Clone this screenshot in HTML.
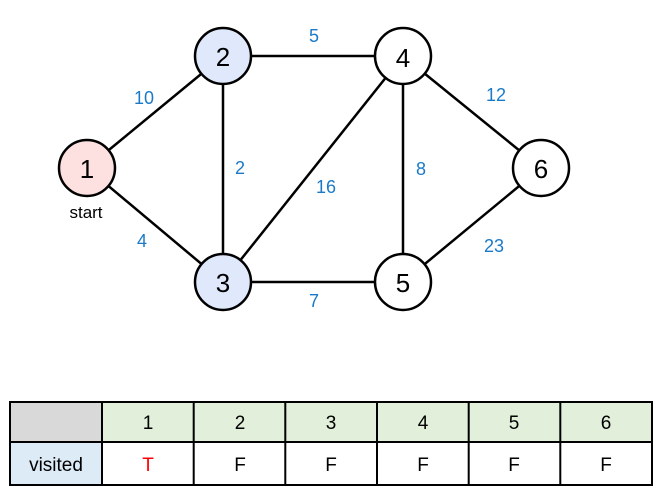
<!DOCTYPE html>
<html><head><style>
body{margin:0;background:#fff;width:670px;height:499px;overflow:hidden;font-family:"Liberation Sans",sans-serif}
</style></head><body>
<svg width="670" height="499" viewBox="0 0 670 499" xmlns="http://www.w3.org/2000/svg" font-family="Liberation Sans, sans-serif">
<g stroke="#000" stroke-width="2.5">
<line x1="87" y1="168" x2="223" y2="56"/>
<line x1="87" y1="168" x2="223" y2="282"/>
<line x1="223" y1="56" x2="223" y2="282"/>
<line x1="223" y1="56" x2="403" y2="56"/>
<line x1="223" y1="282" x2="403" y2="56"/>
<line x1="223" y1="282" x2="403" y2="282"/>
<line x1="403" y1="56" x2="403" y2="282"/>
<line x1="403" y1="56" x2="541" y2="168"/>
<line x1="403" y1="282" x2="541" y2="168"/>
</g>
<g stroke="#000" stroke-width="2.5">
<circle cx="87" cy="168" r="28" fill="#fde0e0"/>
<circle cx="223" cy="56" r="28" fill="#e0e8fb"/>
<circle cx="223" cy="282" r="28" fill="#e0e8fb"/>
<circle cx="403" cy="56" r="28" fill="#fff"/>
<circle cx="403" cy="282" r="28" fill="#fff"/>
<circle cx="541" cy="168" r="28" fill="#fff"/>
</g>
<g font-size="26" text-anchor="middle" fill="#000">
<text x="87" y="178">1</text><text x="223" y="66">2</text><text x="223" y="292">3</text>
<text x="403" y="67">4</text><text x="403" y="292">5</text><text x="541" y="178">6</text>
</g>
<text x="86" y="218" font-size="17" text-anchor="middle">start</text>
<g font-size="18" fill="#1a7ac8" text-anchor="middle">
<text x="144" y="104">10</text><text x="142" y="247">4</text><text x="240" y="174">2</text>
<text x="314" y="42">5</text><text x="326" y="193">16</text><text x="314" y="307">7</text>
<text x="421" y="175">8</text><text x="496" y="101">12</text><text x="494" y="252">23</text>
</g>
<g stroke="#000" stroke-width="2">
<rect x="10" y="402" width="92" height="40" fill="#d9d9d9"/>
<rect x="102" y="402" width="550" height="40" fill="#e2efda"/>
<rect x="10" y="442" width="92" height="43" fill="#ddebf7"/>
<rect x="102" y="442" width="550" height="43" fill="#fff"/>
<line x1="193.7" y1="402" x2="193.7" y2="485"/>
<line x1="285.3" y1="402" x2="285.3" y2="485"/>
<line x1="377" y1="402" x2="377" y2="485"/>
<line x1="468.7" y1="402" x2="468.7" y2="485"/>
<line x1="560.3" y1="402" x2="560.3" y2="485"/>
</g>
<g font-size="19" text-anchor="middle">
<text x="148" y="429">1</text><text x="240" y="429">2</text><text x="331" y="429">3</text>
<text x="423" y="429">4</text><text x="514" y="429">5</text><text x="606" y="429">6</text>
<text x="56" y="471">visited</text>
<text x="148" y="471" fill="#f00">T</text><text x="240" y="471">F</text><text x="331" y="471">F</text>
<text x="423" y="471">F</text><text x="514" y="471">F</text><text x="606" y="471">F</text>
</g>
</svg>
</body></html>
